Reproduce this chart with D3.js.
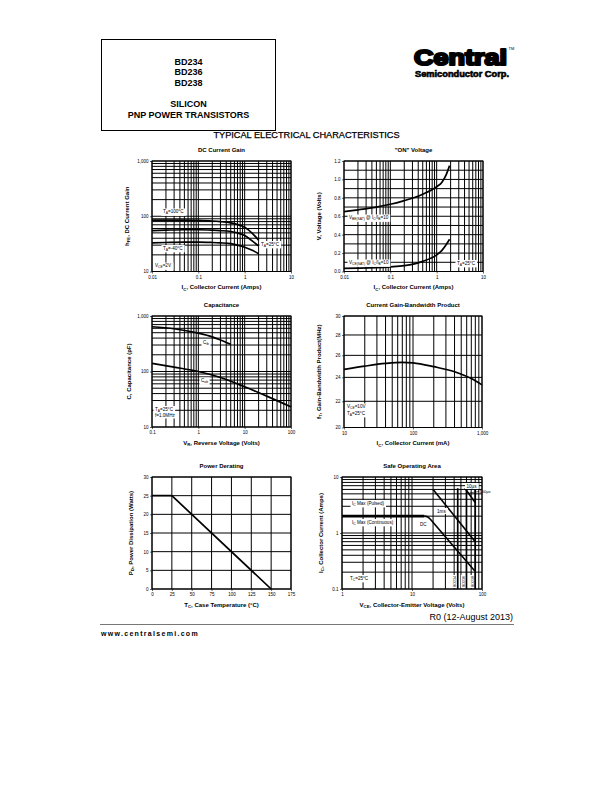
<!DOCTYPE html>
<html><head><meta charset="utf-8">
<script src="https://cdn.jsdelivr.net/npm/d3@7"></script>
<style>body{margin:0;background:#fff}svg{display:block}text{font-family:"Liberation Sans",Arial,sans-serif}</style>
</head><body><svg id="c" width="612" height="792"></svg>
<script>
// ---------- DATA ----------
const gainIc   = [0.01,0.02,0.05,0.1,0.2,0.3,0.5,0.7,1,1.5,2];
const hfe100   = [85,85,85,84,82,80,76,71,63,48,37];
const hfe25    = [55,56,57,57,56,55,53,50,45,35,29];
const hfeM40   = [33,33.5,34,34,33.5,33,32,30,27.5,24,21];

const onIc     = [0.01,0.02,0.05,0.1,0.2,0.5,1,1.3,1.6,1.9];
const vbeSat   = [0.65,0.67,0.70,0.73,0.77,0.84,0.92,0.97,1.05,1.15];
const vceSat   = [0.035,0.037,0.042,0.05,0.063,0.11,0.18,0.23,0.29,0.35];

const cibV     = [0.1,0.3,1,2,3,5];
const cib      = [640,590,490,420,370,310];
const cobV     = [0.1,0.3,1,3,10,30,100];
const cob      = [140,120,100,78,53,36,23];

const ftIc     = [10,20,40,70,100,200,400,700,1000];
const ft       = [24.7,25.0,25.25,25.35,25.3,24.95,24.5,23.9,23.35];

const pdTc     = [0,25,150];
const pd       = [25,25,0];

const contV    = [1,15];
const contI    = [2,2];
const dcV      = [15,16.5,18,19.5,40,79];
const dcI      = [2,1.95,1.8,1.6,0.56,0.21];
const ms1V     = [20,80];
const ms1I     = [6,0.7];
const us100V   = [57,80];
const us100I   = [6.3,3.5];
const bvceo    = [45,60,80];
const bvNames  = ["BD234","BD236","BD238"];

const gainXLabels = ["0.01","0.1","1","10"];
const gainYLabels = ["10","100","1,000"];
const onYTicks = [0,0.2,0.4,0.6,0.8,1.0,1.2];
const onYLabels = ["0.0","0.2","0.4","0.6","0.8","1.0","1.2"];
const capXLabels = ["0.1","1","10","100"];
const ftXLabels = ["10","100","1,000"];
const ftYTicks = [20,22,24,26,28,30];
const pdXTicks = [0,25,50,75,100,125,150,175];
const pdYTicks = [0,5,10,15,20,25,30];
const soaXLabels = ["1","10","100"];
const soaYLabels = ["0.1","1","10"];

// ---------- HELPERS ----------
const svg = d3.select("#c");
const FONT = '"Liberation Sans",Arial,sans-serif';
const LBL = 4.6;

function addText(g, x, y, parts, o) {
  const t = g.append("text").attr("x", x).attr("y", y)
    .attr("font-size", o.size).attr("font-weight", o.weight || "normal")
    .attr("text-anchor", o.anchor || "start").attr("fill", "#000");
  if (o.rotate) t.attr("transform", `rotate(-90,${x},${y})`);
  if (o.ls) t.attr("letter-spacing", o.ls);
  let shift = 0;
  parts.forEach(p => {
    const [s, kind] = Array.isArray(p) ? p : [p];
    const ts = t.append("tspan").text(s);
    const target = kind === "sub" ? o.size * 0.3 : 0;
    if (kind === "sub") ts.attr("font-size", o.size * 0.72);
    if (target !== shift) { ts.attr("dy", target - shift); shift = target; }
  });
  return t;
}
function boxLabel(g, x, y, parts, size, anchor) {
  const t = addText(g, x, y, parts, {size: size || LBL, anchor: anchor || "start"});
  const b = t.node().getBBox();
  g.insert("rect", () => t.node()).attr("x", b.x - 1.5).attr("y", b.y - 0.5)
    .attr("width", b.width + 3).attr("height", b.height + 1).attr("fill", "#fff");
  return t;
}

function chart(c) {
  const g = svg.append("g");
  const x = (c.xLog ? d3.scaleLog() : d3.scaleLinear()).domain(c.xDomain).range([c.left, c.right]);
  const y = (c.yLog ? d3.scaleLog() : d3.scaleLinear()).domain(c.yDomain).range([c.bottom, c.top]);
  const xg = c.xGrid || x.ticks(), yg = c.yGrid || y.ticks();
  g.append("g").selectAll("line").data(xg).join("line")
    .attr("x1", d => x(d)).attr("x2", d => x(d)).attr("y1", c.top).attr("y2", c.bottom)
    .attr("stroke", "#000").attr("stroke-width", 1);
  g.append("g").selectAll("line").data(yg).join("line")
    .attr("y1", d => y(d)).attr("y2", d => y(d)).attr("x1", c.left).attr("x2", c.right)
    .attr("stroke", "#000").attr("stroke-width", 1);
  g.append("rect").attr("x", c.left).attr("y", c.top).attr("width", c.right - c.left)
    .attr("height", c.bottom - c.top).attr("fill", "none").attr("stroke", "#000").attr("stroke-width", 1);
  const ax = d3.axisBottom(x).tickValues(c.xTicks).tickFormat((d, i) => c.xLabels[i]).tickSize(2).tickPadding(2);
  const ay = d3.axisLeft(y).tickValues(c.yTicks).tickFormat((d, i) => c.yLabels[i]).tickSize(2).tickPadding(1.5);
  [g.append("g").attr("transform", `translate(0,${c.bottom})`).call(ax),
   g.append("g").attr("transform", `translate(${c.left},0)`).call(ay)].forEach(a => {
    a.select(".domain").remove();
    a.attr("font-size", 4.5).attr("font-family", FONT);
    a.selectAll("line").attr("stroke", "#000").attr("stroke-width", 0.6);
  });
  const cx = (c.left + c.right) / 2, cy = (c.top + c.bottom) / 2;
  addText(g, cx, c.top - 9, [c.title], {size: 6, weight: "bold", anchor: "middle"});
  addText(g, cx, c.bottom + 17.5, c.xTitle, {size: 6, weight: "bold", anchor: "middle"});
  addText(g, c.yTitleX, cy, c.yTitle, {size: 6, weight: "bold", anchor: "middle", rotate: true});
  return {g, x, y};
}
function curve(ch, xs, ys, w, straight) {
  const pts = xs.map((v, i) => [v, ys[i]]);
  ch.g.append("path").attr("d", d3.line().x(d => ch.x(d[0])).y(d => ch.y(d[1]))
      .curve(straight ? d3.curveLinear : d3.curveMonotoneX)(pts))
    .attr("fill", "none").attr("stroke", "#000").attr("stroke-width", w || 1.7)
    .attr("stroke-linejoin", "round");
}

// ---------- HEADER ----------
svg.append("rect").attr("x", 101.5).attr("y", 39.5).attr("width", 174).attr("height", 91)
  .attr("fill", "none").attr("stroke", "#000").attr("stroke-width", 1);
[["BD234", 64.5], ["BD236", 75], ["BD238", 85.5], ["SILICON", 107], ["PNP POWER TRANSISTORS", 118]].forEach(([s, yy]) =>
  addText(svg, 188.5, yy, [s], {size: 9, weight: "bold", anchor: "middle"}));
svg.append("text").attr("x", 306.5).attr("y", 137.5).attr("font-size", 9.2).attr("text-anchor", "middle")
  .attr("stroke", "#000").attr("stroke-width", 0.25).attr("font-family", FONT)
  .text("TYPICAL ELECTRICAL CHARACTERISTICS");

// logo
svg.append("text").attr("x", 414).attr("y", 64.5).attr("font-size", 22).attr("font-weight", "bold")
  .attr("textLength", 93).attr("lengthAdjust", "spacingAndGlyphs")
  .attr("stroke", "#000").attr("stroke-width", 2.2).attr("stroke-linejoin", "round")
  .attr("font-family", FONT).text("Central");
svg.append("text").attr("x", 508.5).attr("y", 50).attr("font-size", 4).attr("font-family", FONT).text("TM");
svg.append("text").attr("x", 415).attr("y", 76.5).attr("font-size", 8.5).attr("font-weight", "bold")
  .attr("textLength", 94).attr("lengthAdjust", "spacingAndGlyphs").attr("font-family", FONT)
  .attr("stroke", "#000").attr("stroke-width", 0.6)
  .text("Semiconductor Corp.");

// ---------- CHART 1: DC Current Gain ----------
const c1 = chart({left: 152, right: 291, top: 161, bottom: 271.5, xLog: true, yLog: true,
  xDomain: [0.01, 10], yDomain: [10, 1000], xTicks: [0.01, 0.1, 1, 10], xLabels: gainXLabels,
  yTicks: [10, 100, 1000], yLabels: gainYLabels, title: "DC Current Gain",
  xTitle: ["I", ["C", "sub"], ", Collector Current (Amps)"], yTitleX: 128.5,
  yTitle: ["h", ["FE", "sub"], ", DC Current Gain"]});
curve(c1, gainIc, hfe100); curve(c1, gainIc, hfe25); curve(c1, gainIc, hfeM40);
boxLabel(c1.g, 163, 213, ["T", ["A", "sub"], "=100°C"]);
boxLabel(c1.g, 163, 249.5, ["T", ["A", "sub"], "=-40°C"]);
boxLabel(c1.g, 155, 267, ["V", ["CE", "sub"], "=2V"]);
boxLabel(c1.g, 261, 245.5, ["T", ["A", "sub"], "=25°C"]);

// ---------- CHART 2: ON Voltage ----------
const c2 = chart({left: 344, right: 483, top: 161, bottom: 271.5, xLog: true, yLog: false,
  xDomain: [0.01, 10], yDomain: [0, 1.2], xTicks: [0.01, 0.1, 1, 10], xLabels: gainXLabels,
  yGrid: d3.scaleLinear().domain([0, 1.2]).ticks(12),
  yTicks: onYTicks, yLabels: onYLabels, title: "\"ON\" Voltage",
  xTitle: ["I", ["C", "sub"], ", Collector Current (Amps)"], yTitleX: 320.5,
  yTitle: ["V, Voltage (Volts)"]});
curve(c2, onIc, vbeSat); curve(c2, onIc, vceSat);
boxLabel(c2.g, 349, 219, ["V", ["BE(SAT)", "sub"], " @ I", ["C", "sub"], "/I", ["B", "sub"], "=10"]);
boxLabel(c2.g, 349, 264, ["V", ["CE(SAT)", "sub"], " @ I", ["C", "sub"], "/I", ["B", "sub"], "=10"]);
boxLabel(c2.g, 457, 264.5, ["T", ["A", "sub"], "=25°C"]);

// ---------- CHART 3: Capacitance ----------
const c3 = chart({left: 152, right: 291, top: 316, bottom: 427, xLog: true, yLog: true,
  xDomain: [0.1, 100], yDomain: [10, 1000], xTicks: [0.1, 1, 10, 100], xLabels: capXLabels,
  yTicks: [10, 100, 1000], yLabels: gainYLabels, title: "Capacitance",
  xTitle: ["V", ["R", "sub"], ", Reverse Voltage (Volts)"], yTitleX: 130.5,
  yTitle: ["C, Capacitance (pF)"]});
curve(c3, cibV, cib); curve(c3, cobV, cob);
boxLabel(c3.g, 203, 344, ["C", ["ib", "sub"]]);
boxLabel(c3.g, 201, 382, ["C", ["ob", "sub"]]);
boxLabel(c3.g, 155, 410.5, ["T", ["A", "sub"], "=25°C"]);
boxLabel(c3.g, 155, 417, ["f=1.0MHz"]);

// ---------- CHART 4: Gain-Bandwidth ----------
const c4 = chart({left: 344, right: 482, top: 316, bottom: 427.5, xLog: true, yLog: true,
  xDomain: [10, 1000], yDomain: [20, 30], xTicks: [10, 100, 1000], xLabels: ftXLabels,
  yGrid: ftYTicks, yTicks: ftYTicks, yLabels: ftYTicks.map(String),
  title: "Current Gain-Bandwidth Product",
  xTitle: ["I", ["C", "sub"], ", Collector Current (mA)"], yTitleX: 320.5,
  yTitle: ["f", ["T", "sub"], ", Gain-Bandwidth Product(MHz)"]});
curve(c4, ftIc, ft);
boxLabel(c4.g, 347, 408, ["V", ["CE", "sub"], "=10V"]);
boxLabel(c4.g, 347, 414.5, ["T", ["A", "sub"], "=25°C"]);

// ---------- CHART 5: Power Derating ----------
const c5 = chart({left: 152, right: 291, top: 477, bottom: 589, xLog: false, yLog: false,
  xDomain: [0, 175], yDomain: [0, 30], xGrid: pdXTicks, yGrid: pdYTicks,
  xTicks: pdXTicks, xLabels: pdXTicks.map(String), yTicks: pdYTicks, yLabels: pdYTicks.map(String),
  title: "Power Derating", xTitle: ["T", ["C", "sub"], ", Case Temperature (°C)"], yTitleX: 132.5,
  yTitle: ["P", ["D", "sub"], ", Power Dissipation (Watts)"]});
curve(c5, pdTc, pd, 1.7, true);

// ---------- CHART 6: Safe Operating Area ----------
const c6 = chart({left: 342, right: 482, top: 477, bottom: 589, xLog: true, yLog: true,
  xDomain: [1, 100], yDomain: [0.1, 10], xTicks: [1, 10, 100], xLabels: soaXLabels,
  yTicks: [0.1, 1, 10], yLabels: soaYLabels, title: "Safe Operating Area",
  xTitle: ["V", ["CE", "sub"], ", Collector-Emitter Voltage (Volts)"], yTitleX: 322.5,
  yTitle: ["I", ["C", "sub"], ", Collector Current (Amps)"]});
bvceo.forEach(v => c6.g.append("line").attr("x1", c6.x(v)).attr("x2", c6.x(v))
  .attr("y1", c6.y(6.3)).attr("y2", c6.y(0.1)).attr("stroke", "#000").attr("stroke-width", 1.7));
curve(c6, contV, contI, 2.6, true);
curve(c6, dcV, dcI, 1.6);
curve(c6, ms1V, ms1I, 1.6, true);
curve(c6, us100V, us100I, 1.6, true);
boxLabel(c6.g, 352, 504.5, ["I", ["C", "sub"], " Max (Pulsed)"]);
boxLabel(c6.g, 352, 523.5, ["I", ["C", "sub"], " Max (Continuous)"]);
boxLabel(c6.g, 420, 525.5, ["DC"]);
boxLabel(c6.g, 437, 512.5, ["1ms"]);
boxLabel(c6.g, 466.5, 487.5, ["10µs"]);
c6.g.append("line").attr("x1", c6.x(66)).attr("y1", c6.y(5.2)).attr("x2", 479).attr("y2", c6.y(5.5))
  .attr("stroke", "#000").attr("stroke-width", 0.6);
addText(c6.g, 479.5, c6.y(5.5) + 1.5, ["100µs"], {size: 4});
boxLabel(c6.g, 350, 579.5, ["T", ["C", "sub"], "=25°C"]);
bvceo.forEach((v, i) => {
  const xx = c6.x(v) - 1.5, yy = 587;
  const t = addText(c6.g, xx, yy, [bvNames[i]], {size: 3.6, rotate: true});
  const b = t.node().getBBox();
  c6.g.insert("rect", () => t.node()).attr("x", xx - 4).attr("y", yy - b.width - 1)
    .attr("width", 4.2).attr("height", b.width + 2).attr("fill", "#fff");
});

// ---------- FOOTER ----------
addText(svg, 513, 620, ["R0 (12-August 2013)"], {size: 9, anchor: "end"});
svg.append("line").attr("x1", 100).attr("x2", 514).attr("y1", 624.5).attr("y2", 624.5)
  .attr("stroke", "#777").attr("stroke-width", 1);
addText(svg, 101, 635.5, ["www.centralsemi.com"], {size: 7, weight: "bold", ls: 1.3});
</script></body></html>
